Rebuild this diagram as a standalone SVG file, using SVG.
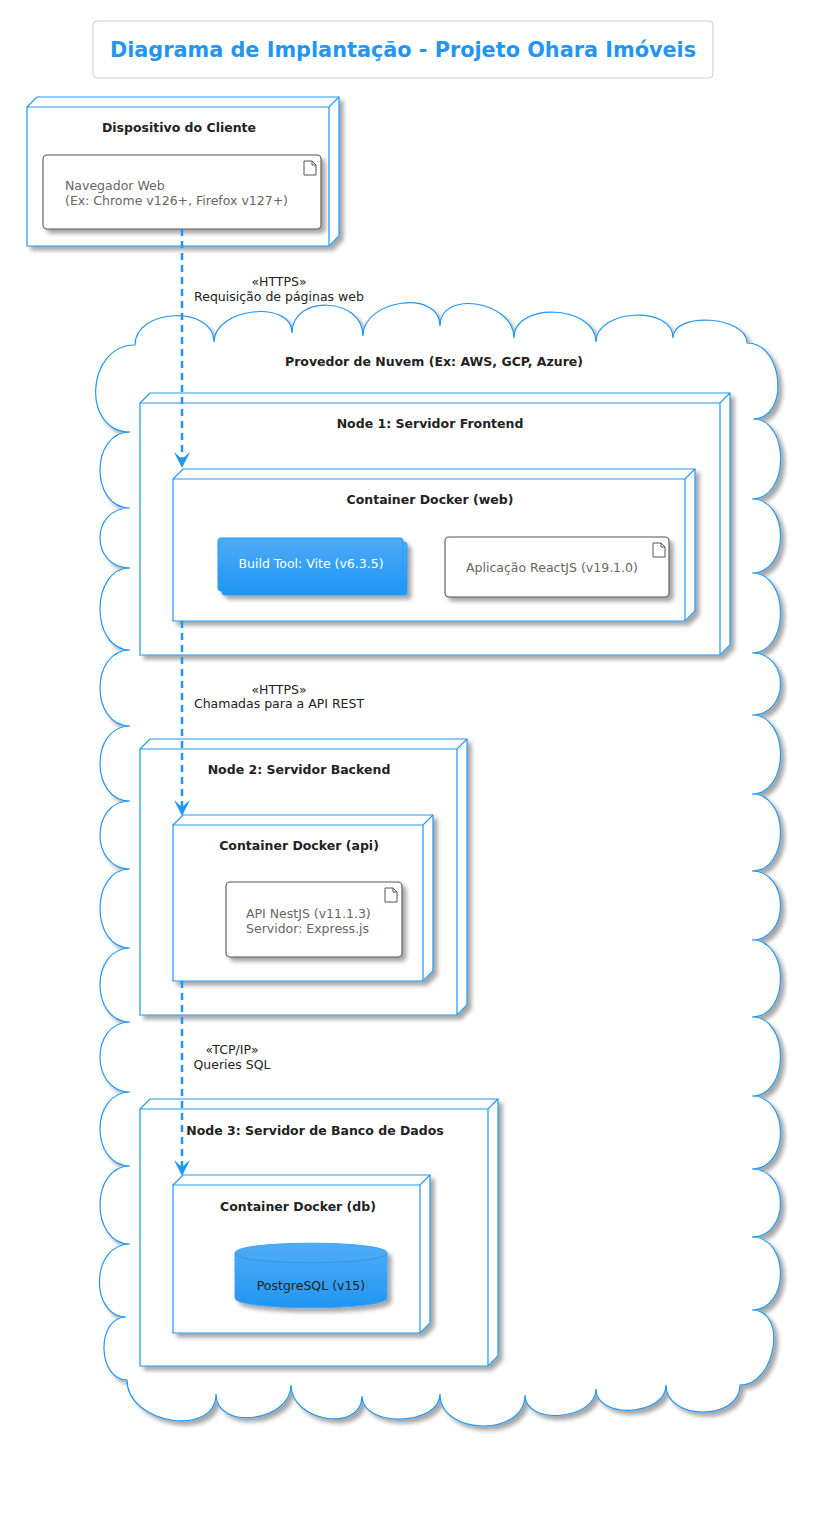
<svg xmlns="http://www.w3.org/2000/svg" width="813" height="1535" viewBox="0 0 813 1535">
<defs>
<filter id="sh" x="-10%" y="-10%" width="130%" height="130%">
<feGaussianBlur in="SourceAlpha" stdDeviation="2"/>
<feOffset dx="4" dy="4" result="o"/>
<feComponentTransfer><feFuncA type="linear" slope="0.35"/></feComponentTransfer>
<feMerge><feMergeNode/><feMergeNode in="SourceGraphic"/></feMerge>
</filter>
<linearGradient id="blue" x1="0" y1="0" x2="0" y2="1">
<stop offset="0" stop-color="#4FACF6"/>
<stop offset="1" stop-color="#2196F3"/>
</linearGradient>
<marker id="ah" viewBox="0 0 16 16" refX="8" refY="16" markerWidth="16" markerHeight="16" markerUnits="userSpaceOnUse" orient="auto">
<path d="M8,16 L0,0 L8,7 L16,0 Z" fill="#2196F3"/>
</marker>
<style>
.nd{fill:#fff;stroke:#2196F3;stroke-width:1.2}
.ndi{fill:none;stroke:#2196F3;stroke-width:1.2}
.art{fill:#fff;stroke:#555;stroke-width:1.1}
.ico{fill:none;stroke:#555;stroke-width:1}
.t{font-family:"DejaVu Sans","Liberation Sans",sans-serif;font-size:12.5px}
.b{font-weight:bold;fill:#222;text-anchor:middle}
.g{fill:#666}
.l{fill:#222;text-anchor:middle}
.cn{fill:none;stroke:#2196F3;stroke-width:2.5;stroke-dasharray:7,5}
</style>
</defs>
<rect width="813" height="1535" fill="#fff"/>

<g id="title">
<rect x="93" y="21" width="620" height="57" rx="4" fill="#fff" stroke="#ccc" stroke-width="1"/>
<text x="403" y="57" font-family="DejaVu Sans, Liberation Sans, sans-serif" font-size="20.8" font-weight="bold" fill="#2196F3" text-anchor="middle">Diagrama de Implantação - Projeto Ohara Imóveis</text>
</g>

<g id="client">
<g filter="url(#sh)"><path class="nd" d="M27,107 L37,97 L339,97 L339,236 L329,246 L27,246 Z"/></g>
<path class="ndi" d="M27,107 L329,107 L339,97 M329,107 L329,246"/>
<text class="t b" x="179" y="132">Dispositivo do Cliente</text>
<g id="browser">
<rect class="art" x="43" y="155" width="278" height="74" rx="4" filter="url(#sh)"/>
<path class="ico" d="M304,161 L312,161 L316,165 L316,175 L304,175 Z M312,161 L312,165 L316,165"/>
<text class="t g" x="65" y="190">Navegador Web</text>
<text class="t g" x="65" y="205">(Ex: Chrome v126+, Firefox v127+)</text>
</g>
</g>

<g id="cloud">
<path filter="url(#sh)" fill="#fff" stroke="#2196F3" stroke-width="1.2" d="M135,345 C135,308 214,305 214,342 C214,308 292,299 292,333 C292,294 363,297 363,336 C363,299 440,289 440,326 C440,289 514,301 514,338 C514,301 596,305 596,342 C596,309 673,305 673,338 C673,311 747,316 747,343 C784,343 790,419 753,419 C790,419 790,499 752,499 C790,499 790,573 752,573 C790,573 790,653 752,653 C790,653 790,715 752,715 C790,715 790,794 752,794 C790,794 790,871 752,871 C790,871 790,940 752,940 C790,940 790,1017 752,1017 C790,1017 790,1096 752,1096 C790,1096 790,1169 752,1169 C790,1169 790,1237 752,1237 C790,1237 790,1310 752,1310 C788,1310 776,1385 740,1385 C740,1421 666,1421 666,1385 C666,1416 596,1420 596,1389 C596,1420 525,1426 525,1395 C525,1437 440,1436 440,1394 C440,1426 362,1428 362,1396 C362,1433 291,1422 291,1385 C291,1422 216,1431 216,1394 C216,1438 127,1424 127,1380 C97,1380 96,1317 126,1317 C90,1317 90,1244 130,1244 C90,1244 90,1166 130,1166 C90,1166 90,1092 130,1092 C90,1092 90,1022 130,1022 C90,1022 90,948 130,948 C90,948 90,869 130,869 C90,869 90,801 130,801 C90,801 90,726 130,726 C90,726 90,650 130,650 C90,650 90,568 130,568 C90,568 90,508 130,508 C90,508 90,432 130,432 C81,432 86,345 135,345 Z"/>
<text class="t b" x="434" y="366">Provedor de Nuvem (Ex: AWS, GCP, Azure)</text>

<g id="node1">
<g filter="url(#sh)"><path class="nd" d="M140,403 L150,393 L730,393 L730,645 L720,655 L140,655 Z"/></g>
<path class="ndi" d="M140,403 L720,403 L730,393 M720,403 L720,655"/>
<text class="t b" x="430" y="428">Node 1: Servidor Frontend</text>
<g id="web">
<g filter="url(#sh)"><path class="nd" d="M173,479 L183,469 L695,469 L695,611 L685,621 L173,621 Z"/></g>
<path class="ndi" d="M173,479 L685,479 L695,469 M685,479 L685,621"/>
<text class="t b" x="430" y="504">Container Docker (web)</text>
<g id="vite" filter="url(#sh)">
<rect x="222" y="542" width="185" height="53" rx="3" fill="url(#blue)" stroke="#2196F3" stroke-width="1"/>
<rect x="218" y="538" width="185" height="53" rx="3" fill="url(#blue)" stroke="#2196F3" stroke-width="1"/>
</g>
<text class="t" x="311" y="568" fill="#fff" text-anchor="middle">Build Tool: Vite (v6.3.5)</text>
<g id="react">
<rect class="art" x="445" y="537" width="224" height="60" rx="4" filter="url(#sh)"/>
<path class="ico" d="M653,543 L661,543 L665,547 L665,557 L653,557 Z M661,543 L661,547 L665,547"/>
<text class="t g" x="466" y="572">Aplicação ReactJS (v19.1.0)</text>
</g>
</g>
</g>

<g id="node2">
<g filter="url(#sh)"><path class="nd" d="M140,749 L150,739 L467,739 L467,1005 L457,1015 L140,1015 Z"/></g>
<path class="ndi" d="M140,749 L457,749 L467,739 M457,749 L457,1015"/>
<text class="t b" x="299" y="774">Node 2: Servidor Backend</text>
<g id="api">
<g filter="url(#sh)"><path class="nd" d="M173,825 L183,815 L433,815 L433,971 L423,981 L173,981 Z"/></g>
<path class="ndi" d="M173,825 L423,825 L433,815 M423,825 L423,981"/>
<text class="t b" x="299" y="850">Container Docker (api)</text>
<g id="nest">
<rect class="art" x="226" y="882" width="176" height="75" rx="4" filter="url(#sh)"/>
<path class="ico" d="M385,888 L393,888 L397,892 L397,902 L385,902 Z M393,888 L393,892 L397,892"/>
<text class="t g" x="246" y="918">API NestJS (v11.1.3)</text>
<text class="t g" x="246" y="933">Servidor: Express.js</text>
</g>
</g>
</g>

<g id="node3">
<g filter="url(#sh)"><path class="nd" d="M140,1109 L150,1099 L498,1099 L498,1356 L488,1366 L140,1366 Z"/></g>
<path class="ndi" d="M140,1109 L488,1109 L498,1099 M488,1109 L488,1366"/>
<text class="t b" x="315" y="1135">Node 3: Servidor de Banco de Dados</text>
<g id="db">
<g filter="url(#sh)"><path class="nd" d="M173,1185 L183,1175 L430,1175 L430,1323 L420,1333 L173,1333 Z"/></g>
<path class="ndi" d="M173,1185 L420,1185 L430,1175 M420,1185 L420,1333"/>
<text class="t b" x="298" y="1211">Container Docker (db)</text>
<g id="postgres">
<path filter="url(#sh)" fill="url(#blue)" stroke="#3FA2F4" stroke-width="1" d="M235,1253 C235,1240 387,1240 387,1253 L387,1298 C387,1311 235,1311 235,1298 Z"/>
<path fill="none" stroke="#2E8FE0" stroke-width="0.8" d="M235,1253 C235,1266 387,1266 387,1253"/>
<text class="t" x="311" y="1290" fill="#222" text-anchor="middle">PostgreSQL (v15)</text>
</g>
</g>
</g>
</g>

<g id="connectors">
<path class="cn" d="M182,229 L182,459"/>
<path d="M182,468 L174,452 L182,459 L190,452 Z" fill="#2196F3"/>
<text class="t l" x="279" y="286">«HTTPS»</text>
<text class="t l" x="279" y="301">Requisição de páginas web</text>

<path class="cn" d="M182,621 L182,807"/>
<path d="M182,816 L174,800 L182,807 L190,800 Z" fill="#2196F3"/>
<text class="t l" x="279" y="694">«HTTPS»</text>
<text class="t l" x="279" y="708">Chamadas para a API REST</text>

<path class="cn" d="M182,981 L182,1167"/>
<path d="M182,1176 L174,1160 L182,1167 L190,1160 Z" fill="#2196F3"/>
<text class="t l" x="232" y="1054">«TCP/IP»</text>
<text class="t l" x="232" y="1069">Queries SQL</text>
</g>
</svg>
